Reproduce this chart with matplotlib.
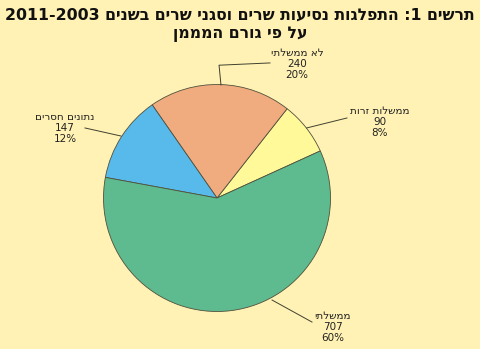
import numpy as np
import matplotlib
matplotlib.use("Agg")
import matplotlib.pyplot as plt
import re

# Data (counter-clockwise order, starting at ~24 deg)
labels = ["ממשלות זרות", "לא ממשלתי", "נתונים חסרים", "ממשלתי"]
values = [90, 240, 147, 707]
percents = ["8%", "20%", "12%", "60%"]
colors = ["#FFF99A", "#F0AC7E", "#58B9EB", "#5DBB8F"]

title = "תרשים 1: התפלגות נסיעות שרים וסגני שרים בשנים 2003-2011\nעל פי גורם המממן"

bg = "#FFF2B4"


def heb(s):
    # matplotlib has no bidi: reverse each line, keep digit runs readable
    out = []
    for line in s.split("\n"):
        rev = line[::-1]
        rev = re.sub(r"[0-9]+", lambda m: m.group(0)[::-1], rev)
        out.append(rev)
    return "\n".join(out)


plt.rcParams['font.family'] = ['DejaVu Sans']

fig = plt.figure(figsize=(4.8, 3.49), dpi=100)
fig.patch.set_facecolor(bg)

# pie centre (217,198) px, radius 113.5 px
cx, cy, r = 217, 198, 113.5
ax = fig.add_axes([(cx - r) / 480, (349 - cy - r) / 349, 2 * r / 480, 2 * r / 349])
ax.set_facecolor(bg)
ax.pie(values, colors=colors, startangle=24.5, counterclock=True, radius=1,
       wedgeprops=dict(edgecolor="#50503c", linewidth=0.6))
ax.set_xlim(-1, 1)
ax.set_ylim(-1, 1)
ax.set_aspect("equal")
ax.axis("off")

# label text centres (data units of the pie axes)
text_pos = [(1.436, 0.67), (0.705, 1.18), (-1.34, 0.617), (1.022, -1.137)]
# leader lines
leaders = [
    [(0.79, 0.617), (1.145, 0.705)],
    [(0.035, 0.996), (0.018, 1.17), (0.467, 1.19)],
    [(-0.846, 0.546), (-1.163, 0.617)],
    [(0.485, -0.899), (0.837, -1.093)],
]

for lab, v, p, (tx, ty), ld in zip(labels, values, percents, text_pos, leaders):
    ax.text(tx, ty, heb(lab) + "\n" + str(v) + "\n" + p, ha="center", va="center",
            fontsize=7.5, linespacing=1.15, color="#222222", clip_on=False)
    xs = [q[0] for q in ld]
    ys = [q[1] for q in ld]
    ax.plot(xs, ys, color="#404030", lw=0.7, clip_on=False)

fig.text(0.5, 1 - 25 / 349, heb(title), ha="center", va="center",
         fontsize=11.3, fontweight="bold", linespacing=1.25, color="#111111")

fig.savefig("out.png", dpi=100, facecolor=bg)
